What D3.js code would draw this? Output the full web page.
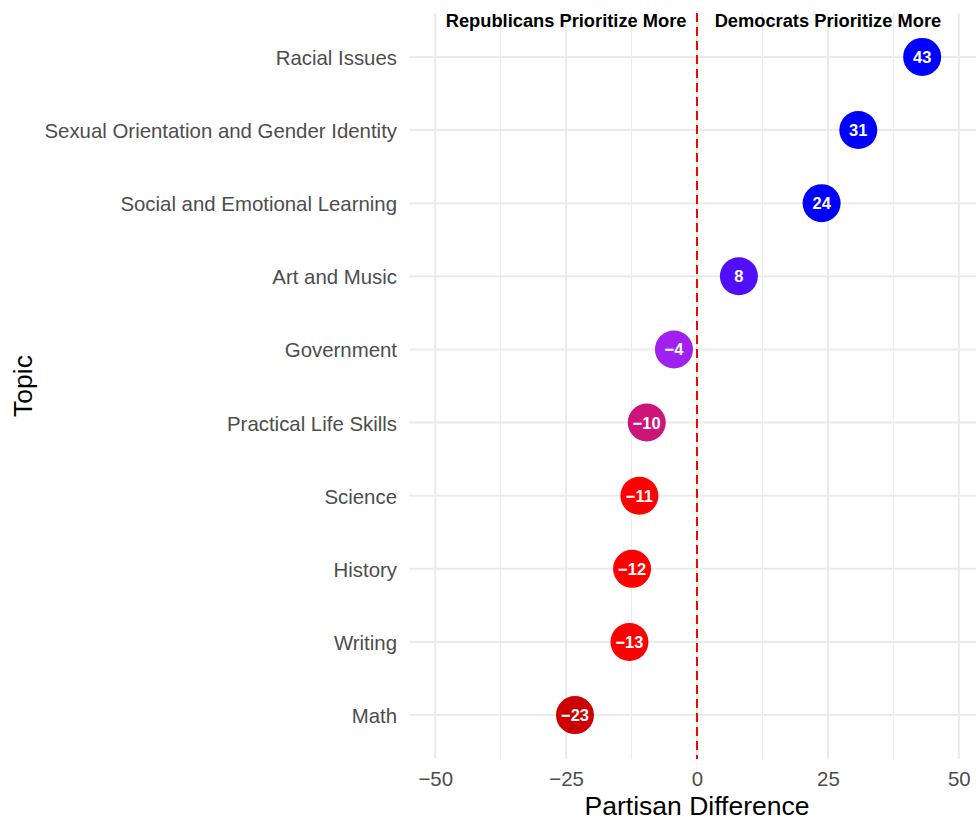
<!DOCTYPE html>
<html>
<head>
<meta charset="utf-8">
<script src="https://cdn.jsdelivr.net/npm/d3@7"></script>
<style>
  html, body { margin: 0; padding: 0; background: #fff; }
  svg { display: block; font-family: "Liberation Sans", Arial, sans-serif; }
</style>
</head>
<body>
<svg id="chart" width="976" height="821"></svg>
<script>
// ---- data ----
const topics = ["Racial Issues", "Sexual Orientation and Gender Identity", "Social and Emotional Learning",
  "Art and Music", "Government", "Practical Life Skills", "Science", "History", "Writing", "Math"];
const diffs = [43, 30.8, 23.8, 8, -4.4, -9.6, -11, -12.4, -12.9, -23.3];
const labels = ["43", "31", "24", "8", "\u22124", "\u221210", "\u221211", "\u221212", "\u221213", "\u221223"];
const colors = ["#0000FF", "#0000FF", "#0000FF", "#500FFA", "#A020F0", "#CD1478", "#FF0000", "#FF0000", "#FF0000", "#CC0000"];
const xTicks = [-50, -25, 0, 25, 50];
const xMinor = [-37.5, -12.5, 12.5, 37.5];
const sideLabels = ["Republicans Prioritize More", "Democrats Prioritize More"];
const sideX = [-25, 25];

// ---- layout ----
const svg = d3.select("#chart");
const panel = { left: 409, right: 985, top: 13, bottom: 759 };

const x = d3.scaleLinear().domain([-55, 55]).range([panel.left, panel.right]);
const y = d3.scalePoint().domain(topics).range([panel.top, panel.bottom]).padding(0.6);
const step = y.step();

// grid: minor vertical
svg.append("g").selectAll("line").data(xMinor).join("line")
  .attr("x1", d => x(d)).attr("x2", d => x(d))
  .attr("y1", panel.top).attr("y2", panel.bottom)
  .attr("stroke", "#EBEBEB").attr("stroke-width", 1);

// grid: major vertical
svg.append("g").selectAll("line").data(xTicks).join("line")
  .attr("x1", d => x(d)).attr("x2", d => x(d))
  .attr("y1", panel.top).attr("y2", panel.bottom)
  .attr("stroke", "#EBEBEB").attr("stroke-width", 2);

// grid: major horizontal
svg.append("g").selectAll("line").data(topics).join("line")
  .attr("x1", panel.left).attr("x2", panel.right)
  .attr("y1", d => y(d)).attr("y2", d => y(d))
  .attr("stroke", "#EBEBEB").attr("stroke-width", 2);

// zero reference line
svg.append("line")
  .attr("x1", x(0)).attr("x2", x(0))
  .attr("y1", panel.top).attr("y2", panel.bottom)
  .attr("stroke", "#FF0000").attr("stroke-width", 2)
  .attr("stroke-dasharray", "9,5");

// side annotations
svg.append("g").selectAll("text").data(sideLabels).join("text")
  .attr("x", (d, i) => x(sideX[i]))
  .attr("y", y(topics[0]) - step * 0.5 + 0.5)
  .attr("text-anchor", "middle")
  .attr("dominant-baseline", "central")
  .attr("font-size", 18.3).attr("font-weight", "bold").attr("fill", "#000")
  .text(d => d);

// x axis
const xAxis = d3.axisBottom(x).tickValues(xTicks).tickSize(0).tickPadding(13)
  .tickFormat(d => d < 0 ? "\u2212" + Math.abs(d) : String(d));
const gx = svg.append("g").attr("transform", `translate(0,${panel.bottom})`).call(xAxis);
gx.select(".domain").remove();
gx.selectAll("text").attr("font-size", 20.4).attr("fill", "#4D4D4D")
  .attr("font-family", "Liberation Sans, Arial, sans-serif");

// y axis
const yAxis = d3.axisLeft(y).tickSize(0).tickPadding(12);
const gy = svg.append("g").attr("transform", `translate(${panel.left},1)`).call(yAxis);
gy.select(".domain").remove();
gy.selectAll("text").attr("font-size", 20.4).attr("fill", "#4D4D4D")
  .attr("font-family", "Liberation Sans, Arial, sans-serif");

// axis titles
svg.append("text")
  .attr("x", (panel.left + panel.right) / 2)
  .attr("y", 806)
  .attr("text-anchor", "middle").attr("dominant-baseline", "central")
  .attr("font-size", 26.5).attr("fill", "#000")
  .text("Partisan Difference");

svg.append("text")
  .attr("transform", `translate(23,${(panel.top + panel.bottom) / 2}) rotate(-90)`)
  .attr("text-anchor", "middle").attr("dominant-baseline", "central")
  .attr("font-size", 26.5).attr("fill", "#000")
  .text("Topic");

// points
const pts = svg.append("g").selectAll("g").data(topics).join("g")
  .attr("transform", (d, i) => `translate(${x(diffs[i])},${y(d)})`);
pts.append("circle").attr("r", 19).attr("fill", (d, i) => colors[i]);
pts.append("text")
  .attr("text-anchor", "middle").attr("dominant-baseline", "central")
  .attr("font-size", 16.5).attr("font-weight", "bold").attr("fill", "#fff")
  .text((d, i) => labels[i]);
</script>
</body>
</html>
